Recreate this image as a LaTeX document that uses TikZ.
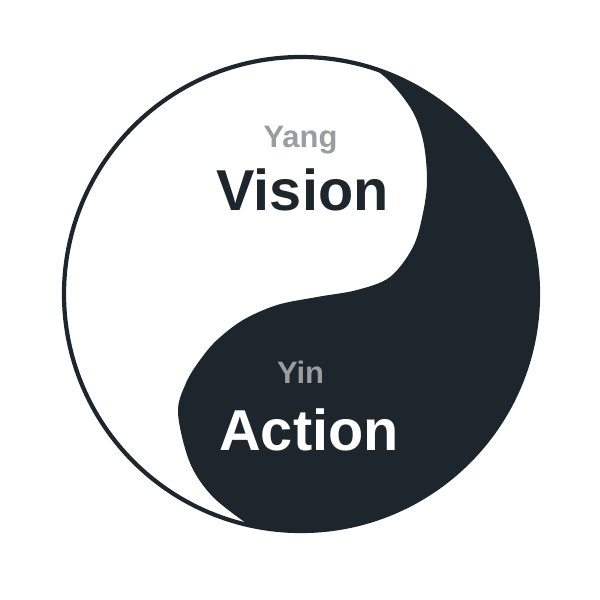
\documentclass[tikz,border=0pt]{standalone}
\usepackage{fontspec}
\setmainfont{Liberation Sans}
\definecolor{yinDark}{HTML}{1E262D}
\definecolor{tagGray}{HTML}{9A9DA0}
\begin{document}
\begin{tikzpicture}[x=0.025cm, y=-0.025cm,
  ring/.style={draw=yinDark, line width=3pt},
  yinfill/.style={fill=yinDark},
  tag/.style={anchor=base, text=tagGray, font=\fontsize{22}{26}\selectfont\bfseries},
  word/.style={anchor=base, font=\fontsize{41}{46}\selectfont\bfseries}]
  \useasboundingbox (0, 0) rectangle (600, 600);
  % Yin half
  \fill[yinfill] (344.6, 61) arc[start angle=-79.4, end angle=102.6, radius=237]
    -- plot[smooth, tension=0.55] coordinates {(249.3, 525.3) (213, 497) (190, 463) (178, 413) (186, 383) (200, 360) (217, 340) (243, 320) (277, 305) (317, 297) (357, 290) (390, 277) (413, 247) (423, 213) (427, 180) (423, 140) (410, 107) (380, 73) (344.6, 61)}
    -- cycle;
  % Outline
  \node (center) [coordinate] at (301, 294) {};
  \draw[ring] (center) circle[radius=237];
  % Labels
  \node (yang) [tag] at (300.5, 147) {Yang};
  \node (vision) [word, text=yinDark] at (302.5, 210) {Vision};
  \node (yin) [tag] at (300.5, 383) {Yin};
  \node (action) [word, text=white] at (309, 450) {Action};
\end{tikzpicture}
\end{document}
